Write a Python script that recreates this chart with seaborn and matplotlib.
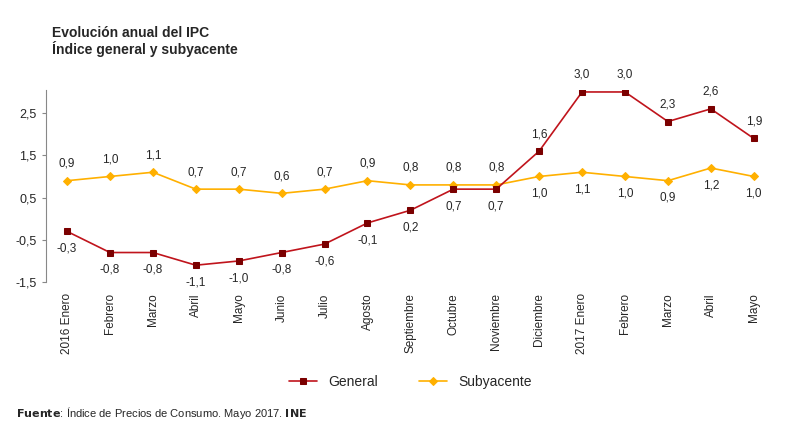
import matplotlib
matplotlib.use("Agg")
import matplotlib.pyplot as plt
import seaborn as sns
import pandas as pd

meses = ["2016 Enero", "Febrero", "Marzo", "Abril", "Mayo", "Junio", "Julio", "Agosto",
         "Septiembre", "Octubre", "Noviembre", "Diciembre", "2017 Enero", "Febrero",
         "Marzo", "Abril", "Mayo"]
general = [-0.3, -0.8, -0.8, -1.1, -1.0, -0.8, -0.6, -0.1, 0.2, 0.7, 0.7, 1.6, 3.0, 3.0, 2.3, 2.6, 1.9]
subyacente = [0.9, 1.0, 1.1, 0.7, 0.7, 0.6, 0.7, 0.9, 0.8, 0.8, 0.8, 1.0, 1.1, 1.0, 0.9, 1.2, 1.0]

sns.set_style("white")
plt.rcParams['font.family'] = ['Liberation Sans', 'DejaVu Sans']

x = list(range(len(meses)))
df = pd.DataFrame({"x": x, "General": general, "Subyacente": subyacente})

fig = plt.figure(figsize=(8, 4.32), dpi=100)
ax = fig.add_axes([0.057, 0.347, 0.912, 0.445])

sns.lineplot(data=df, x="x", y="Subyacente", ax=ax, color="#FFB000", lw=1.2,
             marker="D", markersize=4, markeredgecolor="#FFB000", label="Subyacente")
sns.lineplot(data=df, x="x", y="General", ax=ax, color="#C0141C", lw=1.2,
             marker="s", markersize=5, markerfacecolor="#7B0000", markeredgecolor="#7B0000",
             label="General")

fmt = lambda v: f"{v:.1f}".replace(".", ",")
for i in x:
    up = i >= 11
    ax.annotate(fmt(general[i]), (i, general[i]), xytext=(0, 8 if up else -8),
                textcoords="offset points", ha="center", va="bottom" if up else "top", fontsize=8.5)
    ax.annotate(fmt(subyacente[i]), (i, subyacente[i]), xytext=(0, -8 if up else 8),
                textcoords="offset points", ha="center", va="top" if up else "bottom", fontsize=8.5)

ax.set_xlim(-0.5, len(meses) - 0.5)
ax.set_ylim(-1.5, 3.05)
ax.set_yticks([-1.5, -0.5, 0.5, 1.5, 2.5])
ax.set_yticklabels([fmt(v) for v in [-1.5, -0.5, 0.5, 1.5, 2.5]], fontsize=9)
ax.set_xticks(x)
ax.set_xticklabels(meses, rotation=90, fontsize=8.5)
ax.set_xlabel("")
ax.set_ylabel("")
for s in ["top", "right", "bottom"]:
    ax.spines[s].set_visible(False)
ax.spines["left"].set_color("#888888")
ax.tick_params(axis="y", length=3, color="#888888", direction="out", left=True)
ax.tick_params(axis="x", length=0, pad=8)

h, l = ax.get_legend_handles_labels()
ax.legend(h[::-1], l[::-1], loc="upper center", bbox_to_anchor=(0.5, -0.42), ncol=2,
          frameon=False, fontsize=10, columnspacing=3)

fig.text(0.065, 0.915, "Evolución anual del IPC", fontsize=10, fontweight="bold")
fig.text(0.065, 0.875, "Índice general y subyacente", fontsize=10, fontweight="bold")
fig.text(0.02, 0.035, "$\\bf{Fuente}$: Índice de Precios de Consumo. Mayo 2017. $\\bf{INE}$", fontsize=8)

fig.savefig("out.png", dpi=100)
